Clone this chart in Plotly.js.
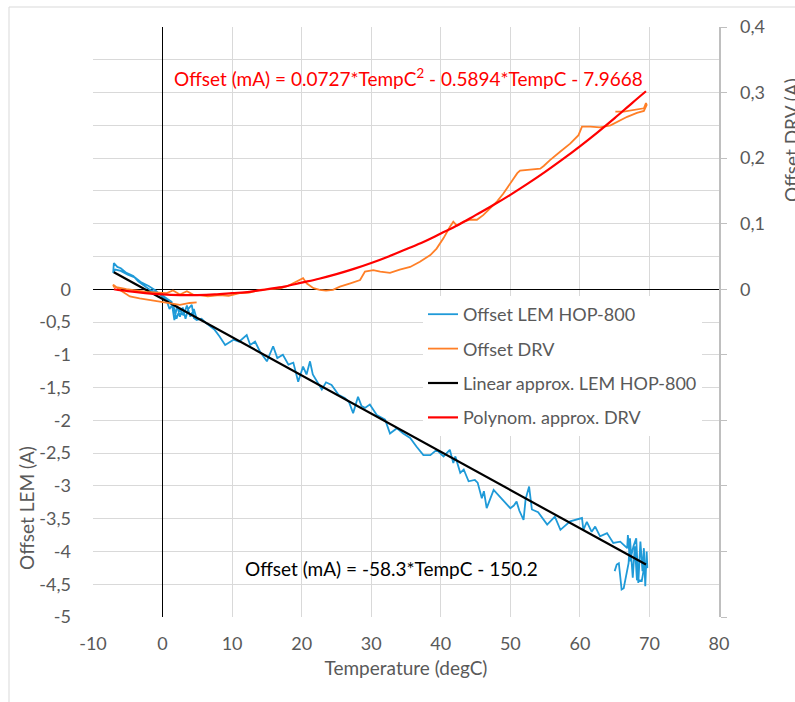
<!DOCTYPE html>
<html>
<head>
<meta charset="utf-8">
<script src="https://cdn.plot.ly/plotly-3.0.1.min.js"></script>
<style>html,body{margin:0;padding:0;background:#fff;}#chart{width:795px;height:702px;}</style>
</head>
<body>
<div id="chart"></div>
<script>
// Offset LEM HOP-800 (left axis, A)
const lemTemp = [4.9,4.5,4.0,3.5,3.0,2.5,2.0,1.5,1.0,0.5,0,-1,-2,-3,-4,-5,-6,-6.8,-7.1,
  -7.0,-6.5,-6,-5.2,-4.2,-3.5,-2.5,-1.8,-1,-0.1,0.7,1.3,1.7,2.1,2.5,2.9,3.3,3.7,4.2,4.5,4.9,5.6,6.3,7.5,8.2,9.0,10.2,11,12.1,12.6,13.3,14,15,15.9,16.5,17.3,18.1,18.8,19.5,20.2,20.7,21.2,21.6,22.2,22.9,23.5,24.3,25.3,26.2,26.8,27.4,28.1,28.6,29.1,29.8,30.8,32,32.7,33.7,34.6,35.6,36.5,37.5,38.5,39.4,40.4,40.9,41.3,41.8,42.1,42.8,43.3,44.0,44.9,45.3,45.9,46.2,46.6,47.6,48.5,49.3,50,50.5,50.9,51.3,51.9,52.2,52.7,53.1,54.0,55.3,56.4,57.2,58.6,60.3,60.5,61.0,61.7,62.2,62.9,63.9,64.8,65.8,66.8,66.9,67.2,67.7,68.1,68.4,68.7,69.0,69.2,69.4,69.6,69.7,
  69.3,68.9,68.2,67.9,67.6,67.2,67.0,66.3,66.0,65.6,65.3,65.0];
const lemOffset = [-0.45,-0.30,-0.42,-0.25,-0.40,-0.30,-0.45,-0.22,-0.30,-0.15,-0.12,-0.02,0.05,0.10,0.18,0.22,0.28,0.30,0.25,
  0.40,0.34,0.32,0.25,0.20,0.12,0.05,-0.01,-0.05,-0.09,-0.15,-0.19,-0.47,-0.25,-0.42,-0.28,-0.45,-0.30,-0.24,-0.44,-0.47,-0.45,-0.52,-0.62,-0.72,-0.85,-0.77,-0.80,-0.70,-0.85,-0.80,-0.95,-1.10,-0.87,-1.05,-1.00,-1.15,-1.12,-1.41,-1.18,-1.30,-1.10,-1.30,-1.41,-1.53,-1.42,-1.46,-1.61,-1.66,-1.72,-1.89,-1.64,-1.78,-1.81,-1.76,-1.92,-1.99,-2.20,-2.12,-2.20,-2.27,-2.40,-2.53,-2.53,-2.45,-2.55,-2.50,-2.45,-2.65,-2.55,-2.80,-2.75,-2.93,-2.91,-2.95,-3.19,-3.08,-3.34,-3.06,-3.16,-3.25,-3.34,-3.30,-3.24,-3.38,-3.52,-3.20,-3.01,-3.36,-3.40,-3.59,-3.47,-3.67,-3.54,-3.49,-3.67,-3.55,-3.70,-3.62,-3.77,-3.72,-3.87,-3.85,-3.95,-3.75,-4.15,-3.92,-3.80,-4.48,-3.85,-4.30,-3.95,-4.53,-4.00,-4.25,
  -4.20,-4.45,-4.43,-3.92,-4.40,-3.80,-4.18,-4.56,-4.58,-4.18,-4.20,-4.30];

// Offset DRV (right axis, A)
const drvTemp = [4.9,3.9,2.5,0.6,-1.0,-3.3,-4.7,-6.0,-7.1,
  -7.0,-5.2,-2.3,0.6,1.5,2.5,3.5,4.5,5.4,6.5,8.2,9.5,11.1,12.5,14,15.5,16.9,18.0,18.8,19.8,20.2,20.7,21.7,22.6,23.5,24.5,25.5,27,28.4,29.1,30.3,31.3,32.7,34.1,35.6,37,38.5,39.4,40.4,41.3,41.8,42.3,43.3,44.2,45.2,46.1,47.1,48.1,49,50,51,51.4,52.8,54.3,54.8,55.7,57.2,58.6,59.8,60.3,61.5,62.9,64.4,65.3,66.8,68.2,69.2,69.6,
  69.5,69.2,67.7,66.3,65.1];
const drvOffset = [-0.020,-0.021,-0.024,-0.021,-0.018,-0.014,-0.011,-0.002,0.007,
  0.004,0.000,-0.004,-0.006,-0.002,-0.008,-0.003,-0.009,-0.009,-0.011,-0.009,-0.010,-0.006,-0.005,-0.001,0.000,0.0015,0.005,0.009,0.014,0.017,0.009,0.0015,-0.001,-0.002,-0.001,0.004,0.009,0.014,0.027,0.029,0.027,0.025,0.030,0.034,0.042,0.052,0.062,0.078,0.095,0.103,0.097,0.103,0.106,0.106,0.113,0.123,0.134,0.146,0.162,0.177,0.181,0.182,0.184,0.188,0.197,0.210,0.222,0.235,0.248,0.248,0.247,0.250,0.255,0.263,0.269,0.272,0.281,
  0.284,0.276,0.273,0.271,0.271];

// Linear approx. LEM HOP-800 (left axis, A)
const linTemp = [-7, 69.5];
const linOffset = [0.26, -4.20];

// Polynom. approx. DRV (right axis, A)
const polyTemp = [-7,-5,-2.5,0,2.5,5,7.5,10,12.5,15,17.5,20,22.5,25,27.5,30,32.5,35,37.5,40,42.5,45,47.5,50,52.5,55,57.5,60,62.5,65,67.5,69.5];
const polyOffset = [0.000,-0.003,-0.006,-0.008,-0.009,-0.009,-0.008,-0.006,-0.004,0.000,0.004,0.010,0.016,0.023,0.031,0.040,0.050,0.061,0.072,0.085,0.098,0.113,0.128,0.144,0.161,0.179,0.198,0.218,0.239,0.261,0.284,0.302];

// Tick labels
const leftTickVals = [-5,-4.5,-4,-3.5,-3,-2.5,-2,-1.5,-1,-0.5,0,0.5,1,1.5,2,2.5,3,3.5,4];
const leftTickText = ["-5","-4,5","-4","-3,5","-3","-2,5","-2","-1,5","-1","-0,5","0","","","","","","","",""];
const rightTickVals = [-0.5,-0.4,-0.3,-0.2,-0.1,0,0.1,0.2,0.3,0.4];
const rightTickText = ["","","","","","0","0,1","0,2","0,3","0,4"];
const xTickVals = [-10,0,10,20,30,40,50,60,70,80];
const xTickText = ["-10","0","10","20","30","40","50","60","70","80"];

const FONT = "Lato, 'Open Sans', sans-serif";
const GRAY = "#595959";

const traces = [
  {x: lemTemp, y: lemOffset, type: 'scatter', mode: 'lines', name: 'Offset LEM HOP-800',
   line: {color: '#1f9ad8', width: 1.8}, yaxis: 'y', legendgroup: 'a'},
  {x: drvTemp, y: drvOffset, type: 'scatter', mode: 'lines', name: 'Offset DRV',
   line: {color: '#ff7f27', width: 1.8}, yaxis: 'y2', legendgroup: 'b'},
  {x: linTemp, y: linOffset, type: 'scatter', mode: 'lines', name: 'Linear approx. LEM HOP-800',
   line: {color: '#000000', width: 2.2}, yaxis: 'y', legendgroup: 'c'},
  {x: polyTemp, y: polyOffset, type: 'scatter', mode: 'lines', name: 'Polynom. approx. DRV',
   line: {color: '#ff0000', width: 2.2, shape: 'spline'}, yaxis: 'y2', legendgroup: 'd'}
];

const W = 795, H = 702, L = 93, R = 76, T = 27, B = 85;
const pw = W - L - R, ph = H - T - B;
const px = v => (v - L) / pw;
const py = v => (H - B - v) / ph;

const layout = {
  width: W, height: H,
  margin: {l: L, r: R, t: T, b: B, pad: 0},
  paper_bgcolor: '#ffffff', plot_bgcolor: '#ffffff',
  font: {family: FONT, color: GRAY, size: 18},
  showlegend: true,
  legend: {x: px(423), y: py(296), xanchor: 'left', yanchor: 'top',
    bgcolor: '#ffffff', borderwidth: 0, font: {family: FONT, size: 18, color: GRAY},
    traceorder: 'grouped', tracegroupgap: 8},
  xaxis: {range: [-10, 80], tickvals: xTickVals, ticktext: xTickText, ticks: '', showline: false,
    showgrid: true, gridcolor: '#d9d9d9', gridwidth: 1,
    zeroline: true, zerolinecolor: '#000000', zerolinewidth: 1,
    tickfont: {family: FONT, size: 18, color: GRAY}, ticklabelstandoff: 14,
    title: {text: 'Temperature (degC)', font: {family: FONT, size: 19, color: GRAY}, standoff: 8}},
  yaxis: {range: [-5, 4], tickvals: leftTickVals, ticktext: leftTickText, ticks: '',
    showline: false, showgrid: true, gridcolor: '#d9d9d9', gridwidth: 1,
    zeroline: true, zerolinecolor: '#000000', zerolinewidth: 1,
    tickfont: {family: FONT, size: 18, color: GRAY}, ticklabelstandoff: 21},
  yaxis2: {range: [-0.5, 0.4], overlaying: 'y', side: 'right', tickvals: rightTickVals, ticktext: rightTickText,
    ticks: 'outside', ticklen: 6, tickcolor: '#bfbfbf', tickwidth: 1,
    showline: true, linecolor: '#bfbfbf', linewidth: 1.5, showgrid: false, zeroline: false,
    tickfont: {family: FONT, size: 18, color: GRAY}, ticklabelstandoff: 10},
  annotations: [
    {xref: 'paper', yref: 'paper', x: px(172), y: py(77.5), xanchor: 'left', yanchor: 'middle', showarrow: false,
     text: 'Offset (mA) = 0.0727*TempC<sup>2</sup> - 0.5894*TempC - 7.9668', font: {family: FONT, size: 19, color: '#ff0000'}},
    {xref: 'paper', yref: 'paper', x: px(243), y: py(568), xanchor: 'left', yanchor: 'middle', showarrow: false,
     text: 'Offset (mA) = -58.3*TempC - 150.2', font: {family: FONT, size: 19, color: '#000000'}},
    {xref: 'paper', yref: 'paper', x: px(26), y: py(508), xanchor: 'center', yanchor: 'middle', showarrow: false,
     textangle: -90, text: 'Offset LEM (A)', font: {family: FONT, size: 19, color: GRAY}},
    {xref: 'paper', yref: 'paper', x: px(791), y: py(140), xanchor: 'center', yanchor: 'middle', showarrow: false,
     textangle: -90, text: 'Offset DRV (A)', font: {family: FONT, size: 19, color: GRAY}}
  ],
  shapes: [
    {type: 'rect', xref: 'paper', yref: 'paper', x0: px(9), x1: px(805), y0: py(712), y1: py(7),
     line: {color: '#d9d9d9', width: 1}, fillcolor: 'rgba(0,0,0,0)', layer: 'below'}
  ]
};

Plotly.newPlot('chart', traces, layout, {displayModeBar: false, staticPlot: true});
</script>
</body>
</html>
